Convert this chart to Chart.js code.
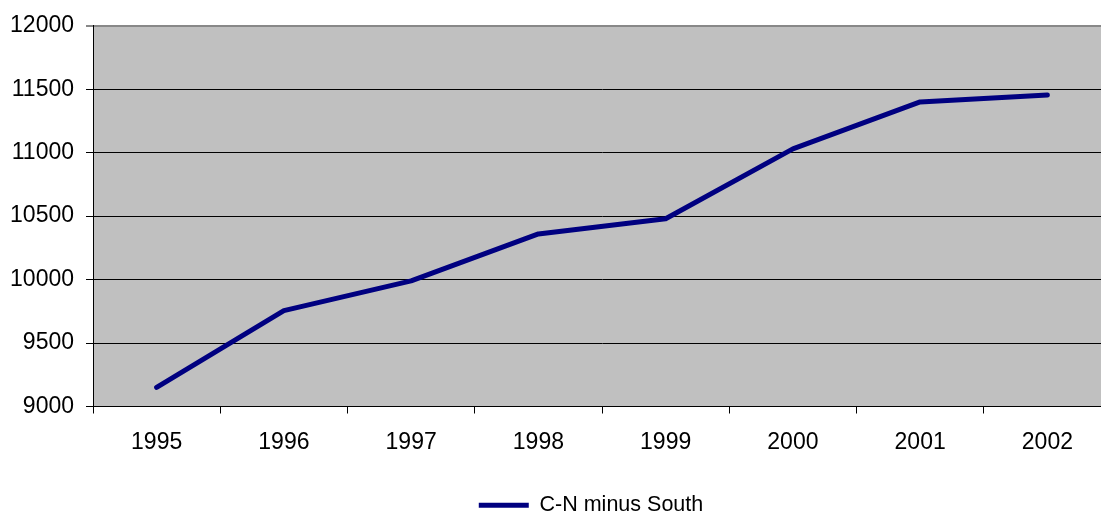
<!DOCTYPE html>
<html>
<head>
<meta charset="utf-8">
<script src="https://cdn.jsdelivr.net/npm/chart.js@4/dist/chart.umd.min.js"></script>
<style>
  html, body { margin: 0; padding: 0; background: #ffffff; overflow: hidden; }
  #wrap { width: 1114px; height: 516px; position: relative; }
</style>
</head>
<body>
<div id="wrap"><canvas id="cnChart"></canvas></div>
<script>
// values
const years = ["1995", "1996", "1997", "1998", "1999", "2000", "2001", "2002"];
const cnMinusSouth = [9150, 9755, 9990, 10360, 10480, 11030, 11400, 11455];
const seriesLabel = "C-N minus South";

const yMin = 9000;
const yMax = 12000;
const yStep = 500;

// gray plot background like the old spreadsheet charts
const plotBackground = {
    id: "plotBackground",
    beforeDraw(chart) {
        const { ctx, chartArea } = chart;
        ctx.save();
        ctx.fillStyle = "#c0c0c0";
        ctx.fillRect(chartArea.left, chartArea.top, chartArea.right - chartArea.left, chartArea.bottom - chartArea.top);
        ctx.restore();
    }
};

// nudge the legend a bit to the left, the original isn't quite centered
const legendNudge = {
    id: "legendNudge",
    afterLayout(chart) {
        if (chart.legend) {
            chart.legend.left -= 11;
            chart.legend.right -= 11;
        }
    }
};

Chart.defaults.font.family = "'Liberation Sans', Arial, sans-serif";
Chart.defaults.font.size = 23;
Chart.defaults.color = "#000000";

const cnChart = new Chart("cnChart", {
    type: "line",
    data: {
        labels: years,
        datasets: [{
            label: seriesLabel,
            data: cnMinusSouth,
            borderColor: "#000080",
            backgroundColor: "#000080",
            borderWidth: 5,
            borderCapStyle: "round",
            borderJoinStyle: "round",
            pointRadius: 0,
            tension: 0
        }]
    },
    options: {
        responsive: true,
        maintainAspectRatio: false,
        animation: false,
        // negative bottom padding pushes the legend down near the edge
        layout: { padding: { top: 25, right: 3, left: 0, bottom: -10 } },
        plugins: {
            legend: {
                position: "bottom",
                fullSize: false,
                labels: {
                    usePointStyle: true,
                    pointStyle: "line",
                    pointStyleWidth: 50,
                    boxHeight: 22,
                    padding: 2,
                    font: { size: 21.5 }
                }
            },
            tooltip: { enabled: false }
        },
        scales: {
            x: {
                offset: true,
                grid: {
                    offset: true,
                    drawOnChartArea: false,
                    color: "#000000",
                    tickLength: 7
                },
                border: { color: "#000000", width: 1 },
                ticks: { padding: 15, maxRotation: 0 },
                afterFit(scale) { scale.height = 86; }
            },
            y: {
                min: yMin,
                max: yMax,
                grid: {
                    color: ctx => ctx.tick && ctx.tick.value === yMax ? "#888888" : "#000000",
                    lineWidth: ctx => ctx.tick && ctx.tick.value === yMax ? 2 : 1,
                    tickLength: 7
                },
                border: { color: "#000000", width: 1 },
                ticks: { stepSize: yStep, padding: 12, callback: value => String(value) },
                afterFit(scale) { scale.width = 93; }
            }
        }
    },
    plugins: [plotBackground, legendNudge]
});
</script>
</body>
</html>
